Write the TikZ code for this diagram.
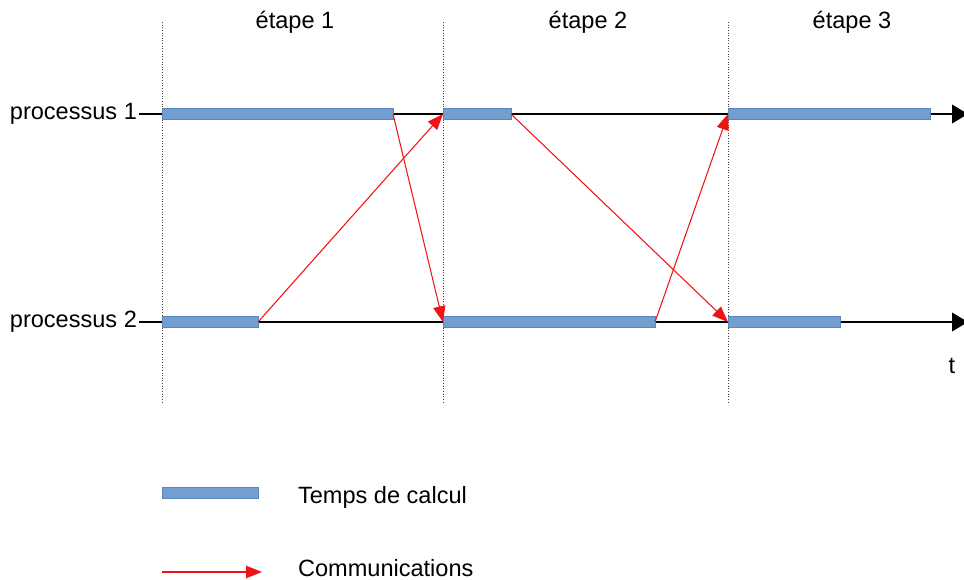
\documentclass[tikz,border=0pt]{standalone}
\usepackage{fontspec}
\setmainfont{Liberation Sans}
\usetikzlibrary{arrows.meta}
\definecolor{BarBlue}{RGB}{114,159,207}
\definecolor{BarEdge}{RGB}{92,134,186}
\definecolor{CommRed}{RGB}{238,20,20}

\begin{document}
\begin{tikzpicture}[x=0.02cm, y=-0.02cm,
    every node/.style={font=\fontsize{13.4}{16}\selectfont, inner sep=1pt},
    bar/.style={draw=BarEdge, fill=BarBlue, line width=0.4pt, outer sep=0pt,
                minimum height=6.4pt, inner sep=0pt},
    comm/.style={-{Triangle[length=9pt,width=7pt]}, draw=CommRed, line width=0.6pt},
    axe/.style={-{Triangle[length=9pt,width=10.5pt]}, line width=1.1pt},
    sep/.style={densely dotted, black!75, line width=0.5pt}
  ]
  \useasboundingbox (0,0) rectangle (964,579);

  % etapes
  \foreach \x in {162,443,728} {
    \draw[sep] (\x,22) -- (\x,402);
  }
  \foreach \x/\n in {295/1,588/2,852/3} {
    \node (etape\n) at (\x,22) {étape \n};
  }

  % processus
  \node[anchor=east] (proc1) at (139,114) {processus 1};
  \node[anchor=east] (proc2) at (139,322) {processus 2};
  \coordinate (fin1) at (968,114);
  \coordinate (fin2) at (968,322);
  \draw[axe] (proc1.east) -- (fin1);
  \draw[axe] (proc2.east) -- (fin2);
  \node (temps) at (952,366) {t};

  % temps de calcul
  \foreach \n/\a/\b/\y in {c11/162/393/114, c12/443/511/114, c13/728/930/114,
                           c21/162/258/322, c22/443/655/322, c23/728/840/322} {
    \node[bar, minimum width={(\b-\a)*0.02cm}] (\n) at ({(\a+\b)/2},\y) {};
  }

  % communications
  \draw[comm] (c11.east) -- (c22.west);
  \draw[comm] (c21.east) -- (c12.west);
  \draw[comm] (c12.east) -- (c23.west);
  \draw[comm] (c22.east) -- (c13.west);

  % legende
  \node[bar, minimum width=1.92cm] (legcalc) at (210,493) {};
  \node[anchor=west] (txtcalc) at (296,497) {Temps de calcul};
  \coordinate (legA) at (162,572);
  \coordinate (legB) at (262,572);
  \draw[comm] (legA) -- (legB);
  \node[anchor=west] (txtcomm) at (296,568) {Communications};
\end{tikzpicture}
\end{document}
